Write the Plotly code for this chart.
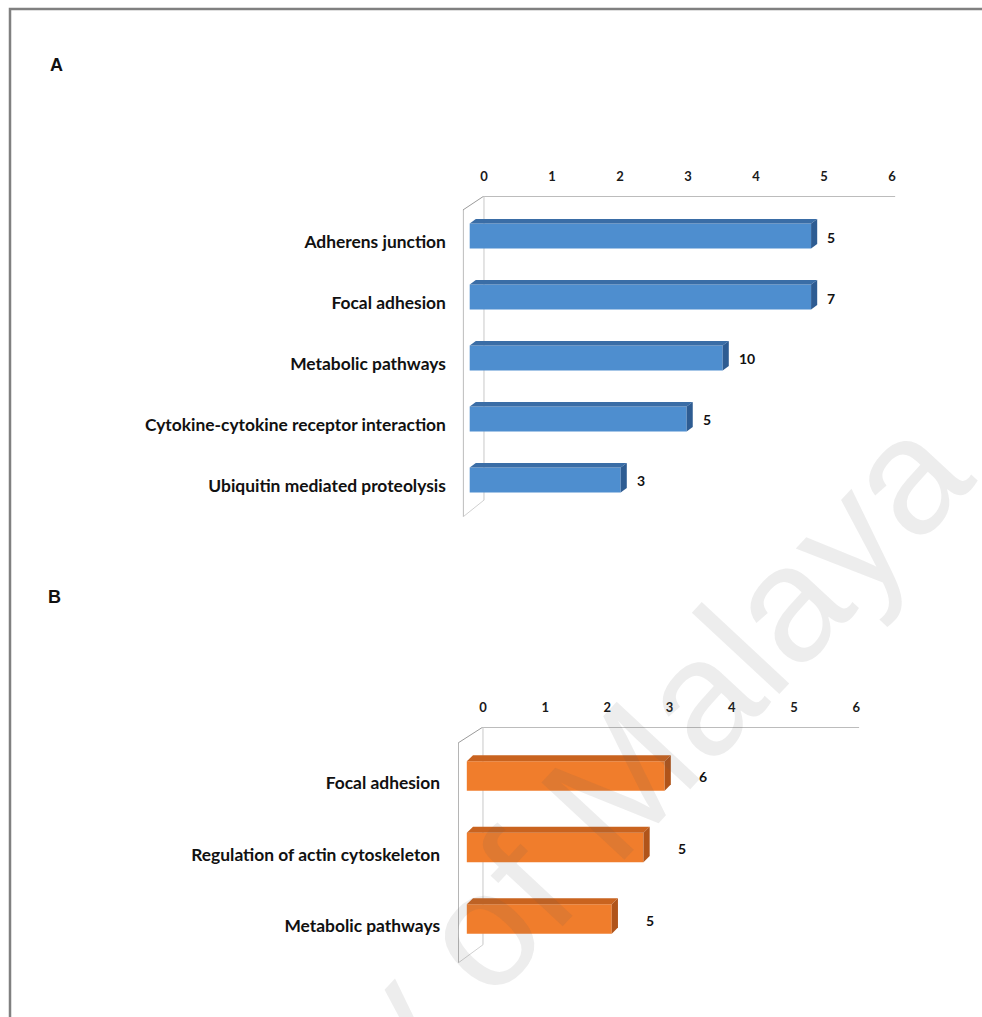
import plotly.graph_objects as go

# Panel A: enriched KEGG pathways (bar length = enrichment score, label = gene count)
a_pathways = ["Adherens junction", "Focal adhesion", "Metabolic pathways",
              "Cytokine-cytokine receptor interaction", "Ubiquitin mediated proteolysis"]
a_scores = [4.9, 4.9, 3.6, 3.07, 2.1]
a_counts = [5, 7, 10, 5, 3]

# Panel B
b_pathways = ["Focal adhesion", "Regulation of actin cytoskeleton", "Metabolic pathways"]
b_scores = [3.02, 2.68, 2.17]
b_counts = [6, 5, 5]

axis_ticks = [0, 1, 2, 3, 4, 5, 6]

W, H = 982, 1017
LABEL_FONT = "Lato"

fig = go.Figure()


def px_x(p):
    return p / W


def px_y(p):
    return 1 - p / H


def add_panel(names, scores, counts, xa, ya, cfg):
    pos = list(range(len(names)))
    fl = cfg["front_left"]
    dx, dy, bh = cfg["depth_x"], cfg["depth_y"], cfg["bar_h"]

    # front faces of the 3-D bars
    fig.add_trace(go.Bar(
        orientation="h", y=pos, x=[s - dx - fl for s in scores], base=fl,
        width=bh, marker=dict(color=cfg["front"], line=dict(width=0)),
        xaxis=xa, yaxis=ya, hoverinfo="skip", showlegend=False))

    # top and right-hand faces
    for p, s in zip(pos, scores):
        top, bot = p - bh / 2, p + bh / 2
        fig.add_trace(go.Scatter(
            x=[fl, s - dx, s, fl + dx, fl], y=[top, top, top - dy, top - dy, top],
            fill="toself", fillcolor=cfg["top"], mode="lines", line=dict(width=0),
            xaxis=xa, yaxis=ya, hoverinfo="skip", showlegend=False))
        fig.add_trace(go.Scatter(
            x=[s - dx, s, s, s - dx, s - dx], y=[top, top - dy, bot - dy, bot, top],
            fill="toself", fillcolor=cfg["side"], mode="lines", line=dict(width=0),
            xaxis=xa, yaxis=ya, hoverinfo="skip", showlegend=False))

    # gene-count labels
    for p, s, c in zip(pos, scores, counts):
        fig.add_annotation(
            x=s, y=p, xref=xa, yref=ya, text=f"<b>{c}</b>", showarrow=False,
            xanchor="left", yanchor="middle", xshift=cfg["label_gap"], yshift=-1,
            font=dict(family=LABEL_FONT, size=14, color="#111111"))

    # chart walls: top axis line, side wall and floor edges
    x0r, x1r = cfg["xrange"]
    ytop, ybot = cfg["yrange"][1], cfg["yrange"][0]
    wall_top, back_bot = cfg["wall_top"], cfg["back_bot"]
    edges = [
        (0, ytop, x1r, ytop, "#7a7a7a", 1.2),
        (0, ytop, x0r, wall_top, "#9a9a9a", 1.0),
        (x0r, wall_top, x0r, ybot, "#8a8a8a", 1.2),
        (x0r, ybot, 0, back_bot, "#d0d0d0", 1.0),
        (0, ytop, 0, back_bot, "#c8c8c8", 1.0),
    ]
    for ex0, ey0, ex1, ey1, col, w in edges:
        fig.add_shape(type="line", xref=xa, yref=ya, x0=ex0, y0=ey0, x1=ex1, y1=ey1,
                      line=dict(color=col, width=w), layer="below")

    drop = cfg["label_drop"]
    axis_font = dict(family=LABEL_FONT, size=13, color="#1a1a1a", weight="bold")
    xname = "xaxis" if xa == "x" else "xaxis" + xa[1:]
    yname = "yaxis" if ya == "y" else "yaxis" + ya[1:]
    fig.update_layout({
        xname: dict(domain=[px_x(cfg["xpx"][0]), px_x(cfg["xpx"][1])], range=list(cfg["xrange"]),
                    side="top", anchor=ya, tickvals=axis_ticks, ticktext=[str(t) for t in axis_ticks],
                    showgrid=False, zeroline=False, showline=False, ticks="",
                    ticklabelstandoff=cfg["tick_standoff"], tickfont=axis_font, fixedrange=True),
        yname: dict(domain=[px_y(cfg["ypx"][1]), px_y(cfg["ypx"][0])], range=list(cfg["yrange"]),
                    anchor=xa, tickvals=[p + drop for p in pos], ticktext=names,
                    showgrid=False, zeroline=False, showline=False, ticks="",
                    ticklabelstandoff=cfg["label_standoff"],
                    tickfont=dict(family=LABEL_FONT, size=17.4, color="#111111", weight="bold"),
                    fixedrange=True),
    })


add_panel(a_pathways, a_scores, a_counts, "x", "y", dict(
    front="#4E8ECF", top="#3A6DA6", side="#2E5C92",
    front_left=-0.21, depth_x=0.09, depth_y=0.075, bar_h=0.41,
    label_gap=8, label_drop=0.1,
    xrange=(-0.31, 6.05), yrange=(4.607, -0.656), wall_top=-0.426, back_bot=4.33,
    xpx=(462.9, 895.4), ypx=(196, 517), tick_standoff=11, label_standoff=16))

add_panel(b_pathways, b_scores, b_counts, "x2", "y2", dict(
    front="#F07D2C", top="#C9631F", side="#B0541A",
    front_left=-0.26, depth_x=0.1, depth_y=0.085, bar_h=0.41,
    label_gap=26, label_drop=0.1,
    xrange=(-0.4, 6.05), yrange=(2.615, -0.685), wall_top=-0.462, back_bot=2.36,
    xpx=(458.1, 859.3), ypx=(727, 963), tick_standoff=11, label_standoff=17))

# panel letters
for letter, lx, ly in [("A", 56, 65), ("B", 54, 597)]:
    fig.add_annotation(x=px_x(lx), y=px_y(ly), xref="paper", yref="paper", text=f"<b>{letter}</b>",
                       showarrow=False, xanchor="center", yanchor="middle",
                       font=dict(family="Liberation Sans", size=18, color="#111111"))

# outer frame
fig.add_shape(type="rect", xref="paper", yref="paper", x0=px_x(10), y0=-0.1, x1=1.1, y1=px_y(9),
              line=dict(color="#808080", width=2.5), layer="below")

# watermark
fig.add_annotation(x=px_x(430), y=px_y(985), xref="paper", yref="paper",
                   text="University of Malaya", showarrow=False, textangle=-47,
                   xanchor="center", yanchor="middle",
                   font=dict(family="Liberation Sans", size=165, color="rgba(90,90,90,0.11)"))

fig.update_layout(width=W, height=H, autosize=False, margin=dict(l=0, r=0, t=0, b=0),
                  paper_bgcolor="white", plot_bgcolor="rgba(0,0,0,0)", showlegend=False,
                  barmode="overlay")

fig.write_html("out.html")
